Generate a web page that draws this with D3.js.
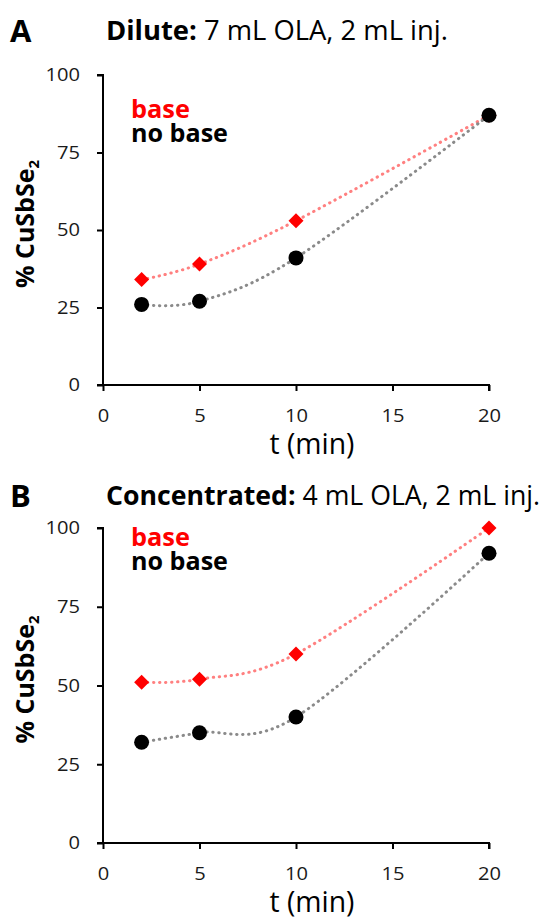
<!DOCTYPE html>
<html><head><meta charset="utf-8">
<script src="https://cdn.jsdelivr.net/npm/d3@7"></script>
<style>body{margin:0;background:#fff;} svg{display:block;font-family:"Open Sans", sans-serif;}</style>
</head><body>
<svg id="c" width="548" height="918"></svg>
<script>
const times = [2, 5, 10, 20];
const baseA = [34, 39, 53, 87];
const noBaseA = [26, 27, 41, 87];
const baseB = [51, 52, 60, 100];
const noBaseB = [32, 35, 40, 92];
const xTicks = [0, 5, 10, 15, 20];
const yTicks = [0, 25, 50, 75, 100];
const panels = [
  {letter: "A", boldTitle: "Dilute:", restTitle: " 7 mL OLA, 2 mL inj.", base: baseA, noBase: noBaseA,
   top: 75, bottom: 385, titleY: 40, legY: 118},
  {letter: "B", boldTitle: "Concentrated:", restTitle: " 4 mL OLA, 2 mL inj.", base: baseB, noBase: noBaseB,
   top: 528, bottom: 843, titleY: 505, legY: 546}
];

const svg = d3.select("#c");
const x = d3.scaleLinear().domain([0, 20]).range([103, 489]);

function fit(sel, w) {
  const fs = +sel.attr("font-size");
  const len = sel.node().getComputedTextLength();
  const nfs = fs * w / len;
  sel.attr("font-size", nfs);
  return nfs;
}
let titleFs = null;

panels.forEach((p, pi) => {
  const y = d3.scaleLinear().domain([0, 100]).range([p.bottom, p.top]);
  const g = svg.append("g");
  // titles
  g.append("text").attr("x", 10).attr("y", p.titleY + 2).attr("font-size", 31).attr("font-weight", 700).text(p.letter);
  const tt = g.append("text").attr("x", 106).attr("y", p.titleY).attr("font-size", 22);
  tt.append("tspan").attr("font-weight", 700).text(p.boldTitle);
  tt.append("tspan").text(p.restTitle);
  if (titleFs === null) titleFs = fit(tt, 342);
  else {
    tt.attr("font-size", titleFs);
    if (tt.node().getComputedTextLength() > 434) fit(tt, 434);
  }

  // axes
  const ya = g.append("g").attr("transform", `translate(${x(0)},0)`)
    .call(d3.axisLeft(y).tickValues(yTicks).tickSize(6).tickPadding(17));
  const xa = g.append("g").attr("transform", `translate(0,${y(0)})`)
    .call(d3.axisBottom(x).tickValues(xTicks).tickSize(6).tickPadding(18));
  [ya, xa].forEach(a => {
    a.select(".domain").attr("stroke", "#000").attr("stroke-width", 2);
    a.selectAll(".tick line").attr("stroke", "#000").attr("stroke-width", 2);
    a.selectAll(".tick text").attr("font-size", 18).attr("fill", "#1a1a1a").attr("font-family", "'Open Sans', sans-serif")
      .attr("textLength", d => String(d).length * 11.5).attr("lengthAdjust", "spacingAndGlyphs");
  });
  ya.select(".domain").attr("d", `M-6,${y(100)}H0V${y(0)}`);
  xa.select(".domain").attr("d", `M${x(0)-6},0H${x(20)}V6`);

  // axis labels
  const yl = g.append("text")
    .attr("transform", `translate(34,${(p.top + p.bottom) / 2 - 6}) rotate(-90)`)
    .attr("text-anchor", "middle").attr("font-size", 25).attr("font-weight", 700);
  yl.append("tspan").text("% CuSbSe");
  yl.append("tspan").attr("font-size", 15).attr("dy", 5).text("2");
  const xl = g.append("text").attr("x", 312).attr("y", p.bottom + 69).attr("text-anchor", "middle")
    .attr("font-size", 25).text("t (min)");
  fit(xl, 85);

  // legend
  const l1 = g.append("text").attr("x", 131).attr("y", p.legY).attr("font-size", 21).attr("font-weight", 700).attr("fill", "#ff0000").text("base");
  fit(l1, 59);
  const l2 = g.append("text").attr("x", 131).attr("y", p.legY + 24).attr("font-size", 21).attr("font-weight", 700).attr("fill", "#000").text("no base");
  fit(l2, 97);

  const line = d3.line().x(d => x(d[0])).y(d => y(d[1])).curve(d3.curveCardinal.tension(0));
  const series = [
    {vals: p.base, lc: "#ff8080", mark: "diamond"},
    {vals: p.noBase, lc: "#8a8a8a", mark: "circle"}
  ];
  series.forEach(s => {
    const pts = times.map((tt, i) => [tt, s.vals[i]]);
    g.append("path").attr("d", line(pts)).attr("fill", "none").attr("stroke", s.lc)
      .attr("stroke-width", 3).attr("stroke-linecap", "round").attr("stroke-dasharray", "0.4,5.6");
  });
  series.forEach(s => {
    const pts = times.map((tt, i) => [tt, s.vals[i]]);
    if (s.mark === "circle") {
      g.selectAll(null).data(pts).enter().append("circle")
        .attr("cx", d => x(d[0])).attr("cy", d => y(d[1])).attr("r", 7.5).attr("fill", "#000");
    } else {
      g.selectAll(null).data(pts).enter().append("path")
        .attr("transform", d => `translate(${x(d[0])},${y(d[1])})`)
        .attr("d", "M0,-7.5L7.5,0L0,7.5L-7.5,0Z").attr("fill", "#ff0000");
    }
  });
});
</script>
</body></html>
